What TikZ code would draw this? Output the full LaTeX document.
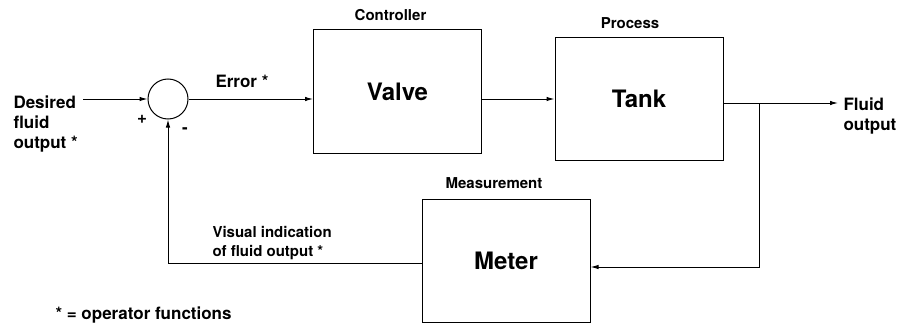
\documentclass[tikz,border=0pt]{standalone}
\usepackage{fontspec}
\setmainfont{TeX Gyre Heros}
\usetikzlibrary{positioning,arrows.meta}

\begin{document}
\begin{tikzpicture}[x=1pt,y=-1pt,line width=1pt,
		block/.style={draw,minimum width=168pt,minimum height=123pt,font=\fontsize{24}{28}\selectfont\bfseries},
		tag/.style={inner sep=0pt,font=\fontsize{15}{18}\selectfont\bfseries},
		txt/.style={inner sep=0pt,align=left,font=\fontsize{17}{20}\selectfont\bfseries},
		flow/.style={-{Latex[length=8pt,width=4.5pt]}}]
				\useasboundingbox (0,0) rectangle (899,329);

				\node [circle,draw,minimum size=40pt,inner sep=0pt] (sum) at (168,99) {};
				\node [block] (valve) at (397.5,91.5) {Valve};
				\node [block] (tank) at (639,99) {Tank};
				\node [block] (meter) at (506,261) {Meter};

				\node [tag,above=8pt of valve,xshift=-7pt] (ctrl) {Controller};
				\node [tag,above=8pt of tank,xshift=-9pt] (proc) {Process};
				\node [tag,above=10pt of meter,xshift=-12pt] (meas) {Measurement};

				\node [txt,anchor=north west] (want) at (13,95) {Desired\\fluid\\output *};
				\node [txt,anchor=base west] (err) at (215,87) {Error *};
				\node [txt,anchor=north west,font=\fontsize{15}{19}\selectfont\bfseries] (vis) at (212,226) {Visual indication\\of fluid output *};
				\node [txt,anchor=north west] (fluid) at (843,97) {Fluid\\output};
				\node [txt,anchor=base west] (note) at (55,319) {* = operator functions};
				\node [txt] (plus) at (142,119) {+};
				\node [txt] (minus) at (185,131) {-};

				\coordinate (split) at (759,103);
				\coordinate (outp) at (838,103);

				\draw [flow] ([xshift=5pt]want.north east |- sum) -- (sum.west);
				\draw [flow] (sum.east) -- (valve.west |- sum);
				\draw [flow] (valve.east |- tank) -- (tank.west);
				\draw [flow] (tank.east |- outp) -- (outp);
				\draw [flow] (split) |- ([yshift=-6pt]meter.east);
				\draw [flow] ([yshift=-2pt]meter.west) -| (sum.south);
		\end{tikzpicture}
\end{document}
